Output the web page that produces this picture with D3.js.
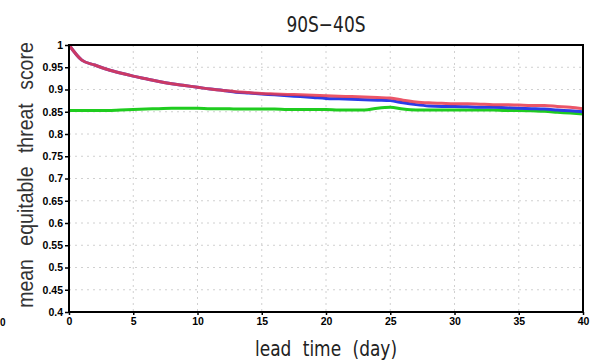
<!DOCTYPE html>
<html>
<head>
<meta charset="utf-8">
<script src="https://cdn.jsdelivr.net/npm/d3@7"></script>
<style>
  body { margin: 0; background: #fff; }
  svg { display: block; }
</style>
</head>
<body>
<div id="chart"></div>
<script>
// lead time in days
var days = d3.range(0, 41);

var red_ets = [1.000, 0.966, 0.955, 0.945, 0.937, 0.930, 0.924, 0.918, 0.913, 0.909,
               0.905, 0.901, 0.898, 0.895, 0.893, 0.891, 0.890, 0.889, 0.888, 0.887,
               0.886, 0.885, 0.884, 0.883, 0.882, 0.881, 0.876, 0.872, 0.870, 0.869,
               0.868, 0.868, 0.867, 0.866, 0.866, 0.865, 0.864, 0.864, 0.862, 0.860, 0.857];

var blue_ets = [1.000, 0.966, 0.955, 0.945, 0.937, 0.930, 0.924, 0.918, 0.913, 0.909,
                0.905, 0.901, 0.898, 0.894, 0.892, 0.890, 0.888, 0.886, 0.884, 0.882,
                0.880, 0.879, 0.878, 0.877, 0.876, 0.875, 0.870, 0.866, 0.863, 0.862,
                0.862, 0.861, 0.860, 0.860, 0.859, 0.858, 0.857, 0.856, 0.854, 0.852, 0.850];

var green_ets = [0.853, 0.853, 0.853, 0.853, 0.854, 0.855, 0.856, 0.857, 0.858, 0.858,
                 0.858, 0.857, 0.857, 0.856, 0.856, 0.856, 0.856, 0.855, 0.855, 0.855,
                 0.855, 0.854, 0.854, 0.854, 0.858, 0.860, 0.856, 0.854, 0.854, 0.854,
                 0.854, 0.854, 0.854, 0.854, 0.853, 0.853, 0.852, 0.851, 0.849, 0.847, 0.845];

var x_ticks = [0, 5, 10, 15, 20, 25, 30, 35, 40];
var y_ticks = [0.4, 0.45, 0.5, 0.55, 0.6, 0.65, 0.7, 0.75, 0.8, 0.85, 0.9, 0.95, 1];

var width = 599, height = 361;
var margin = {top: 45, right: 16, bottom: 49, left: 69};
var plot_w = width - margin.left - margin.right,
    plot_h = height - margin.top - margin.bottom;

var svg = d3.select("#chart").append("svg")
    .attr("width", width)
    .attr("height", height);

var g = svg.append("g")
    .attr("transform", "translate(" + margin.left + "," + margin.top + ")");

var x = d3.scaleLinear().domain([0, 40]).range([0, plot_w]);
var y = d3.scaleLinear().domain([0.4, 1]).range([plot_h, 0]);

// dotted grid
g.selectAll(".grid-x")
    .data(x_ticks.slice(1, -1))
    .enter()
    .append("line")
        .attr("x1", function(d) { return x(d); })
        .attr("x2", function(d) { return x(d); })
        .attr("y1", 0)
        .attr("y2", plot_h)
        .style("stroke", "#d0d0d0")
        .style("stroke-width", "1px")
        .style("stroke-dasharray", "2,4");

g.selectAll(".grid-y")
    .data(y_ticks.slice(1, -1))
    .enter()
    .append("line")
        .attr("x1", 0)
        .attr("x2", plot_w)
        .attr("y1", function(d) { return y(d); })
        .attr("y2", function(d) { return y(d); })
        .style("stroke", "#d0d0d0")
        .style("stroke-width", "1px")
        .style("stroke-dasharray", "2,4");

// axes
var x_axis = g.append("g")
    .attr("transform", "translate(0," + plot_h + ")")
    .call(d3.axisBottom(x).tickValues(x_ticks).tickSize(3).tickPadding(3).tickFormat(d3.format("d")));

var y_axis = g.append("g")
    .call(d3.axisLeft(y).tickValues(y_ticks).tickSize(4).tickPadding(2)
        .tickFormat(function(d) { return d3.format("")(+d.toFixed(2)); }));

[x_axis, y_axis].forEach(function(a) {
    a.select(".domain").remove();
    a.selectAll("line").style("stroke", "#000").style("stroke-width", "1.5px");
    a.selectAll("text")
        .style("font-family", "'Liberation Sans', Arial, sans-serif")
        .style("font-weight", "bold")
        .style("font-size", "10.5px")
        .style("fill", "#000");
});

// lines
var line = d3.line()
    .x(function(d, i) { return x(days[i]); })
    .y(function(d) { return y(d); })
    .curve(d3.curveMonotoneX);

var series = [
    {values: green_ets, color: "#1fcc1f", opacity: 1},
    {values: blue_ets, color: "#2a3de8", opacity: 1},
    {values: red_ets, color: "#e8384e", opacity: 0.85}
];

series.forEach(function(s) {
    g.append("path")
        .datum(s.values)
        .attr("fill", "none")
        .style("stroke", s.color)
        .style("stroke-opacity", s.opacity)
        .style("stroke-width", "3px")
        .style("stroke-linejoin", "round")
        .attr("d", line);
});

// frame
g.append("rect")
    .attr("x", 0)
    .attr("y", 0)
    .attr("width", plot_w)
    .attr("height", plot_h)
    .attr("fill", "none")
    .style("stroke", "#000")
    .style("stroke-width", "2px");

// titles (tall, narrow letters like the original)
svg.append("text")
    .attr("transform", "translate(" + (margin.left + plot_w / 2) + ",32) scale(1,1.25)")
    .attr("text-anchor", "middle")
    .style("font-family", "'DejaVu Sans', sans-serif")
    .style("font-size", "17px")
    .style("fill", "#222")
    .text("90S\u221240S");

svg.append("text")
    .attr("transform", "translate(" + (margin.left + plot_w / 2) + ",356) scale(1,1.2)")
    .attr("text-anchor", "middle")
    .style("font-family", "'DejaVu Sans', sans-serif")
    .style("font-size", "17px")
    .style("word-spacing", "6px")
    .style("fill", "#222")
    .text("lead time (day)");

svg.append("text")
    .attr("transform", "translate(33,175) rotate(-90) scale(1,1.15)")
    .attr("text-anchor", "middle")
    .style("font-family", "'Liberation Sans', Arial, sans-serif")
    .style("font-size", "19.5px")
    .style("word-spacing", "8px")
    .style("fill", "#333")
    .text("mean equitable threat score");

// stray label left over from the neighbouring panel
svg.append("text")
    .attr("x", 0)
    .attr("y", 326)
    .style("font-family", "'Liberation Sans', Arial, sans-serif")
    .style("font-weight", "bold")
    .style("font-size", "10px")
    .text("0");
</script>
</body>
</html>
